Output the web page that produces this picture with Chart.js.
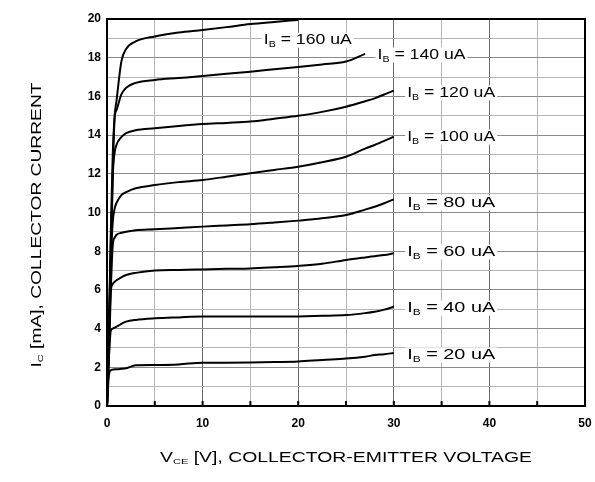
<!DOCTYPE html>
<html>
<head>
<meta charset="utf-8">
<script src="https://cdn.jsdelivr.net/npm/chart.js@4"></script>
<style>
  html, body { margin: 0; padding: 0; background: #fff; }
</style>
</head>
<body>
<canvas id="chart" width="595" height="482"></canvas>
<script>
// V_CE sample points (V)
const vce = [0, 0.2, 0.4, 0.6, 0.8, 1, 1.5, 2, 3, 5, 7.5, 10, 12.5, 15, 17.5, 20, 22.5, 25, 27, 28, 29, 30];

// I_C (mA) per base current
const ib20  = [0, 1.6, 1.85, 1.88, 1.9, 1.9, 1.92, 1.95, 2.1, 2.12, 2.15, 2.24, 2.24, 2.25, 2.27, 2.3, 2.38, 2.45, 2.55, 2.63, 2.68, 2.74];
const ib40  = [0, 2.5, 3.9, 4.0, 4.05, 4.1, 4.25, 4.36, 4.45, 4.53, 4.58, 4.62, 4.62, 4.62, 4.62, 4.63, 4.66, 4.7, 4.8, 4.87, 4.98, 5.13];
const ib60  = [0, 3.5, 5.95, 6.3, 6.42, 6.5, 6.65, 6.77, 6.88, 7.0, 7.03, 7.06, 7.09, 7.11, 7.17, 7.24, 7.35, 7.55, 7.68, 7.74, 7.8, 7.89];
const ib80  = [0, 2.5, 6.0, 8.3, 8.7, 8.85, 8.95, 9.0, 9.08, 9.13, 9.2, 9.27, 9.33, 9.39, 9.48, 9.58, 9.7, 9.87, 10.15, 10.3, 10.48, 10.68];
const ib100 = [0, 3.5, 7.5, 9.5, 10.2, 10.5, 10.9, 11.05, 11.25, 11.42, 11.57, 11.68, 11.85, 12.03, 12.2, 12.37, 12.6, 12.88, 13.3, 13.49, 13.7, 13.92];
const ib120 = [0, 3.5, 7.5, 11.8, 13.1, 13.5, 13.9, 14.1, 14.25, 14.35, 14.47, 14.57, 14.63, 14.7, 14.85, 15.0, 15.2, 15.47, 15.75, 15.9, 16.1, 16.3];
const ib140 = [0, 3.8, 8.5, 12.0, 14.9, 15.3, 16.1, 16.45, 16.7, 16.85, 16.95, 17.05, 17.17, 17.28, 17.4, 17.52, 17.65, 17.8, 18.2, null, null, null];
const ib160 = [0, 4.0, 9.0, 13.0, 15.0, 15.8, 17.8, 18.45, 18.84, 19.1, 19.3, 19.43, 19.58, 19.74, 19.85, 19.95, null, null, null, null, null, null];

const curves = [ib20, ib40, ib60, ib80, ib100, ib120, ib140, ib160];
const ibNames = ['20', '40', '60', '80', '100', '120', '140', '160'];

// where each I_B label starts (V) and its height (mA)
const labelVce = [31.4, 31.4, 31.4, 31.4, 31.4, 31.4, 28.3, 16.4];
const labelIc  = [2.64, 5.06, 7.96, 10.5, 13.9, 16.18, 18.14, 18.9];

const FONT = "'Liberation Sans', Arial, sans-serif";

// text made of [text, isSub] pieces, stretched sideways to a given width, centred on x
function richText(ctx, segs, x, y, size, width, bg) {
  const mainF = size + 'px ' + FONT, subF = Math.round(size * 0.6) + 'px ' + FONT;
  let raw = 0;
  segs.forEach(([t, sub]) => {
    ctx.font = sub ? subF : mainF;
    raw += ctx.measureText(t).width;
  });
  const sx = width / raw;
  if (bg) {
    ctx.fillStyle = '#fff';
    ctx.fillRect(x - width / 2 - 2, y - size * 0.5, width + 4, size);
  }
  ctx.save();
  ctx.translate(x - width / 2, y);
  ctx.scale(sx, 1);
  ctx.fillStyle = '#000';
  ctx.textBaseline = 'middle';
  ctx.textAlign = 'left';
  let cx = 0;
  segs.forEach(([t, sub]) => {
    ctx.font = sub ? subF : mainF;
    ctx.fillText(t, cx, sub ? size * 0.3 : 0);
    cx += ctx.measureText(t).width;
  });
  ctx.restore();
}

const extras = {
  id: 'extras',
  afterDatasetsDraw(chart) {
    const { ctx, chartArea: { top, bottom, left, right }, scales: { x, y } } = chart;
    ctx.save();
    // small tick marks inside the bottom edge
    ctx.strokeStyle = '#000';
    ctx.lineWidth = 2;
    x.ticks.forEach(t => {
      const px = x.getPixelForValue(t.value);
      ctx.beginPath();
      ctx.moveTo(px, bottom);
      ctx.lineTo(px, bottom - 5);
      ctx.stroke();
    });
    // frame
    ctx.strokeRect(left, top, right - left, bottom - top);

    // curve labels
    ibNames.forEach((name, i) => {
      const segs = [['I', false], ['B', true], [' = ' + name + ' uA', false]];
      const w = 88;
      const px = x.getPixelForValue(labelVce[i]) + w / 2;
      const py = y.getPixelForValue(labelIc[i]);
      richText(ctx, segs, px, py, 15, w, true);
    });

    // axis titles
    richText(ctx, [['V', false], ['CE', true], [' [V], COLLECTOR-EMITTER VOLTAGE', false]],
      (left + right) / 2, 458, 14, 372, false);
    ctx.translate(37, 225);
    ctx.rotate(-Math.PI / 2);
    richText(ctx, [['I', false], ['C', true], [' [mA], COLLECTOR CURRENT', false]],
      0, 0, 14, 285, false);
    ctx.restore();
  }
};

const datasets = curves.map((vals, i) => ({
  label: 'IB = ' + ibNames[i] + ' uA',
  data: vce.map((v, j) => ({ x: v, y: vals[j] })).filter(p => p.y !== null),
  borderColor: '#000',
  borderWidth: 2,
  pointRadius: 0,
  cubicInterpolationMode: 'monotone',
  fill: false
}));

const config = {
  type: 'line',
  data: { datasets },
  options: {
    responsive: false,
    animation: false,
    layout: { padding: { top: 19, right: 10, left: 0, bottom: 0 } },
    plugins: { legend: { display: false }, tooltip: { enabled: false } },
    scales: {
      x: {
        type: 'linear',
        min: 0,
        max: 50,
        afterFit: s => { s.height = 76; s.paddingRight = 0; s.paddingLeft = 0; },
        ticks: {
          stepSize: 5,
          padding: 10,
          color: '#000',
          font: { family: FONT, size: 12, weight: 'bold' },
          callback: v => (v % 10 === 0 ? v : '')
        },
        grid: {
          drawTicks: false,
          color: c => (c.tick && c.tick.value % 10 === 0 ? '#6a6a6a' : '#b4b4b4'),
          lineWidth: 1
        },
        border: { color: '#000', width: 2 }
      },
      y: {
        min: 0,
        max: 20,
        afterFit: s => { s.width = 107; },
        ticks: {
          stepSize: 1,
          padding: 6,
          color: '#000',
          font: { family: FONT, size: 12, weight: 'bold' },
          callback: v => (v % 2 === 0 ? v : '')
        },
        grid: {
          drawTicks: false,
          color: c => (c.tick && c.tick.value % 2 === 0 ? '#8a8a8a' : '#b4b4b4'),
          lineWidth: 1
        },
        border: { color: '#000', width: 2 }
      }
    }
  },
  plugins: [extras]
};

new Chart(document.getElementById('chart'), config);
</script>
</body>
</html>
